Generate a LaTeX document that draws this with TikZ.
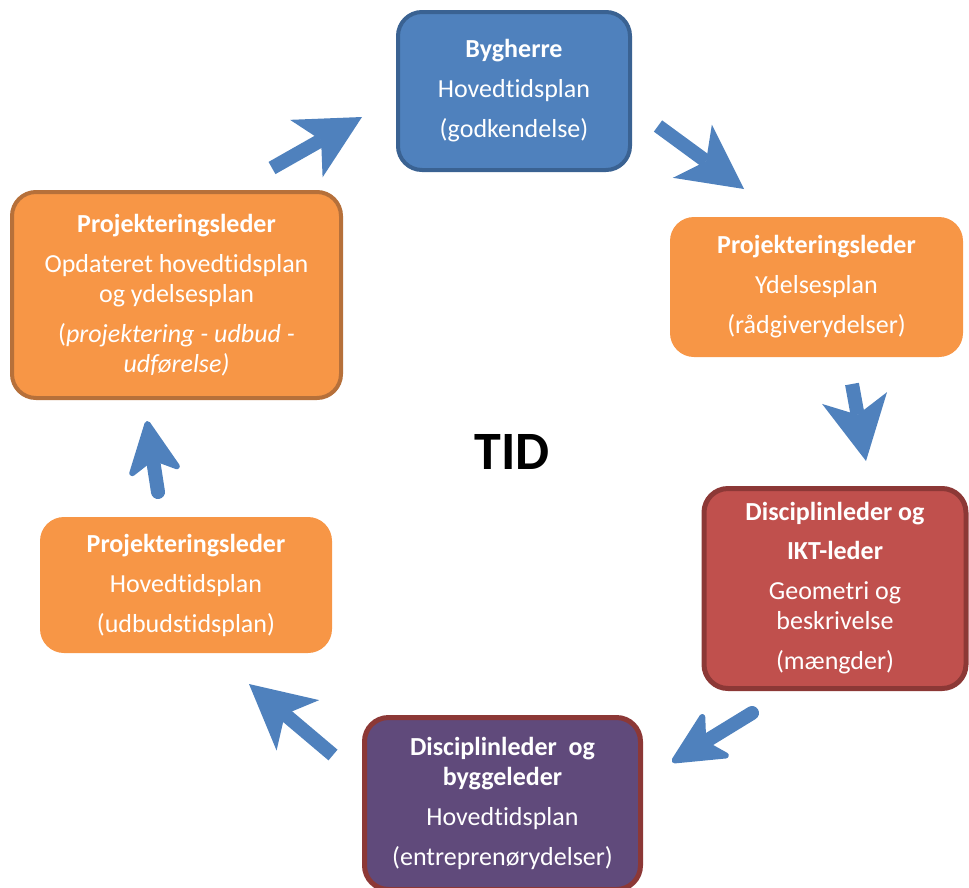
\documentclass[tikz,border=0pt]{standalone}
\usepackage{fontspec}
\setmainfont[Ligatures=NoCommon]{Carlito}
\usetikzlibrary{arrows.meta}
\definecolor{mblue}{HTML}{4F81BD}
\definecolor{mbluedark}{HTML}{3A6292}
\definecolor{morange}{HTML}{F79646}
\definecolor{morangedark}{HTML}{B6703A}
\definecolor{mred}{HTML}{C0504D}
\definecolor{mreddark}{HTML}{8C3836}
\definecolor{mpurple}{HTML}{604A7B}

\begin{document}
\begin{tikzpicture}[x=1pt, y=-1pt,
    box/.style={rounded corners=24pt, text=white, align=center, inner sep=0pt,
      font=\fontsize{26}{30}\selectfont},
    bigarrow/.style={line width=14pt, draw=mblue,
      -{Stealth[length=64pt, width=66pt, inset=17pt, line width=0pt]}},
    roundarrow/.style={line width=14pt, draw=mblue, line cap=round,
      -{Stealth[round, length=60pt, width=58pt, inset=16pt, line width=6pt]}}]
  \useasboundingbox (0,0) rectangle (969,887);
  \clip (0,0) rectangle (969,887);

  % boxes
  \node [box, fill=mblue, draw=mbluedark, line width=4pt, minimum width=232pt, minimum height=158pt] (bygherre) at (514,91)
    {\textbf{Bygherre}\\[10pt] Hovedtidsplan\\[10pt] (godkendelse)};
  \node [box, fill=morange, minimum width=293pt, minimum height=140pt] (ydelse) at (816.5,287)
    {\textbf{Projekteringsleder}\\[10pt] Ydelsesplan\\[10pt] (rådgiverydelser)};
  \node [box, fill=mred, draw=mreddark, line width=5pt, minimum width=262pt, minimum height=200pt] (ikt) at (835,588.5)
    {\textbf{Disciplinleder og}\\[9pt] \textbf{IKT-leder}\\[10pt] Geometri og\\ beskrivelse\\[10pt] (mængder)};
  \node [box, fill=mpurple, draw=mreddark, line width=5pt, minimum width=276pt, minimum height=172pt] (bygge) at (502.5,803.5)
    {\textbf{Disciplinleder\ \ og}\\ \textbf{byggeleder}\\[10pt] Hovedtidsplan\\[10pt] (entreprenørydelser)};
  \node [box, fill=morange, minimum width=292pt, minimum height=136pt] (udbud) at (186,585)
    {\textbf{Projekteringsleder}\\[10pt] Hovedtidsplan\\[10pt] (udbudstidsplan)};
  \node [box, fill=morange, draw=morangedark, line width=4pt, minimum width=329pt, minimum height=206pt] (opdat) at (176.5,295)
    {\textbf{Projekteringsleder}\\[10pt] Opdateret hovedtidsplan\\ og ydelsesplan\\[10pt]
     ({\itshape projektering - udbud -}\\ {\itshape udførelse)}};

  \node [font=\bfseries\fontsize{54}{60}\selectfont] (tid) at (512,452) {TID};

  % arrows
  \coordinate (a1s) at (272,168); \coordinate (a1e) at (362,117);
  \coordinate (a2s) at (658,126); \coordinate (a2e) at (744,189);
  \coordinate (a3s) at (852,384); \coordinate (a3e) at (866,461);
  \coordinate (a4s) at (752,713); \coordinate (a4e) at (672,762);
  \coordinate (a5s) at (333,755); \coordinate (a5e) at (249,684);
  \coordinate (a6s) at (158,492); \coordinate (a6e) at (147,421);

  \draw [bigarrow] (a1s) -- (a1e);
  \draw [bigarrow] (a2s) -- (a2e);
  \draw [bigarrow] (a3s) -- (a3e);
  \draw [roundarrow] (a4s) -- (a4e);
  \draw [bigarrow] (a5s) -- (a5e);
  \draw [roundarrow] (a6s) -- (a6e);
\end{tikzpicture}
\end{document}
